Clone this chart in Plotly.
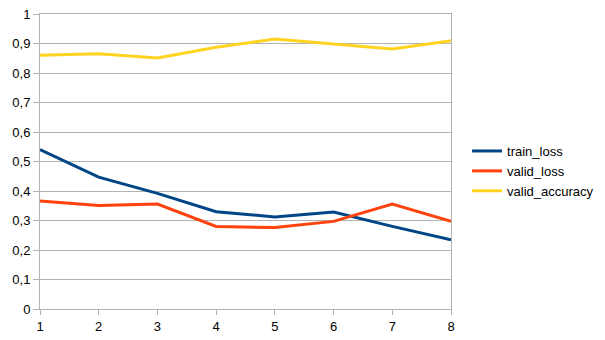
import plotly.graph_objects as go

epochs = [1, 2, 3, 4, 5, 6, 7, 8]
train_loss = [0.540, 0.447, 0.392, 0.330, 0.312, 0.329, 0.280, 0.235]
valid_loss = [0.366, 0.351, 0.356, 0.280, 0.276, 0.297, 0.356, 0.297]
valid_accuracy = [0.860, 0.865, 0.851, 0.887, 0.915, 0.899, 0.881, 0.909]

series = [
    ("train_loss", train_loss, "#004586"),
    ("valid_loss", valid_loss, "#ff420e"),
    ("valid_accuracy", valid_accuracy, "#ffd320"),
]

fig = go.Figure()
for name, vals, color in series:
    fig.add_trace(go.Scatter(x=epochs, y=vals, name=name, mode="lines",
                             line=dict(color=color, width=3)))

grid = "#b3b3b3"
fig.update_layout(
    width=605, height=340,
    margin=dict(l=40, r=154, t=14, b=31),
    paper_bgcolor="white", plot_bgcolor="white",
    font=dict(family="Liberation Sans, Arial, sans-serif", size=13, color="#000000"),
    separators=",.",
    showlegend=True,
    legend=dict(xref="container", yref="container",
                x=0.772, xanchor="left", y=0.497, yanchor="middle",
                font=dict(size=13), tracegroupgap=0, itemwidth=30,
                bgcolor="rgba(0,0,0,0)"),
    xaxis=dict(range=[1, 8], tickmode="array", tickvals=epochs, automargin=False,
               showgrid=False, zeroline=False, showline=True, linecolor=grid,
               linewidth=1, mirror=True, ticks="outside", ticklen=5, tickcolor=grid),
    yaxis=dict(range=[0, 1], tickmode="linear", tick0=0, dtick=0.1, automargin=False,
               showgrid=True, gridcolor=grid, gridwidth=1, zeroline=False,
               showline=True, linecolor=grid, linewidth=1, mirror=True,
               ticks="outside", ticklen=6, tickcolor=grid),
)

fig.write_html("out.html", config={"displayModeBar": False},
               post_script="document.body.style.margin='0';document.body.style.overflow='hidden';")
